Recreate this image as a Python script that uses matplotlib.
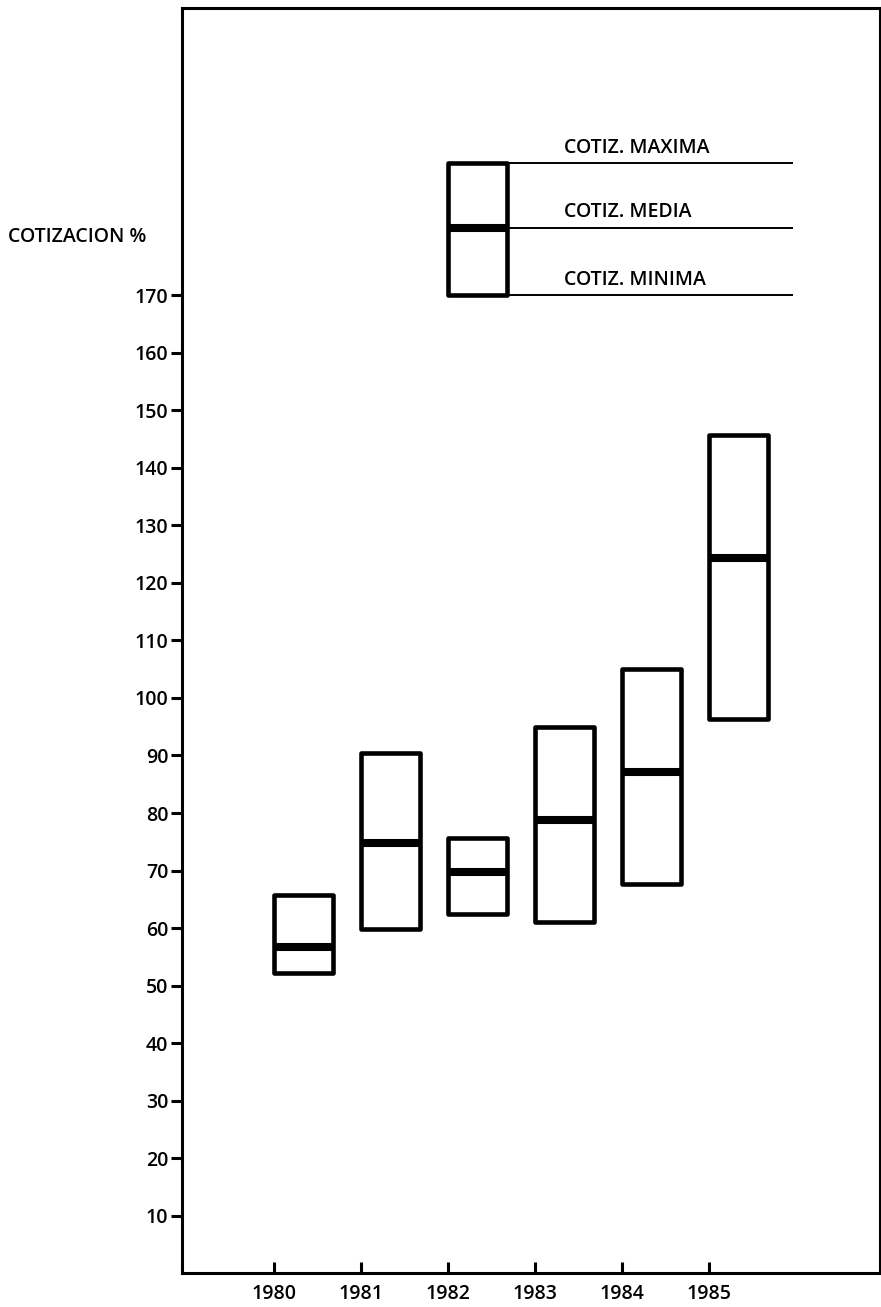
import matplotlib.pyplot as plt
from matplotlib.ticker import FixedLocator

# datos (cotizacion %)
years = [1980, 1981, 1982, 1983, 1984, 1985]
cotiz_max = [65.7, 90.5, 75.7, 95.0, 105.1, 145.8]
cotiz_min = [52.2, 59.9, 62.4, 61.0, 67.6, 96.4]
cotiz_media = [56.7, 74.8, 69.7, 78.7, 87.2, 124.4]

y_ticks = [10, 20, 30, 40, 50, 60, 70, 80, 90, 100, 110, 120, 130, 140, 150, 160, 170]

# caja de la leyenda
legend_x = 1982
legend_max, legend_media, legend_min = 193.0, 181.8, 170.0
legend_labels = ['COTIZ. MAXIMA', 'COTIZ. MEDIA', 'COTIZ. MINIMA']

plt.rcParams['font.family'] = ['Open Sans', 'DejaVu Sans']
fs = 14

fig = plt.figure(figsize=(8.81, 13.07), dpi=100)
ax = fig.add_axes([0.2066, 0.026, 0.7923, 0.9679])

box_w = 0.68
heights = [hi - lo for hi, lo in zip(cotiz_max, cotiz_min)]
ax.bar(years, heights, bottom=cotiz_min, width=box_w, align='edge',
       fill=False, edgecolor='black', linewidth=3.3, joinstyle='round')
ax.hlines(cotiz_media, [y for y in years], [y + box_w for y in years],
          color='black', linewidth=5.8)

# leyenda
ax.bar([legend_x], [legend_max - legend_min], bottom=[legend_min], width=box_w,
       align='edge', fill=False, edgecolor='black', linewidth=3.3, joinstyle='round')
ax.hlines([legend_media], legend_x, legend_x + box_w, color='black', linewidth=5.8)
ax.hlines([legend_max, legend_media, legend_min], legend_x + box_w, 1985.97,
          color='black', linewidth=1.4)
for val, lab in zip([legend_max, legend_media, legend_min], legend_labels):
    ax.text(1983.33, val + 2.7, lab, fontsize=fs, fontweight='semibold',
            ha='left', va='center')

ax.set_xlim(1978.94, 1986.97)
ax.set_ylim(0, 220)

ax.yaxis.set_major_locator(FixedLocator(y_ticks))
ax.set_yticklabels([str(t) for t in y_ticks])
ax.set_xticks(years)
ax.set_xticklabels([str(y) for y in years])

ax.tick_params(axis='y', direction='out', length=8, width=2.2, pad=2,
               labelsize=fs)
ax.tick_params(axis='x', direction='in', length=8, width=2.2, pad=8,
               labelsize=fs)
for lab in ax.get_xticklabels() + ax.get_yticklabels():
    lab.set_fontweight('semibold')

for side in ['left', 'bottom', 'top', 'right']:
    ax.spines[side].set_linewidth(2.2)

fig.text(8 / 881, 1 - 237 / 1307, 'COTIZACION %', fontsize=fs,
         fontweight='semibold', ha='left', va='center')

fig.savefig('out.png', dpi=100)
